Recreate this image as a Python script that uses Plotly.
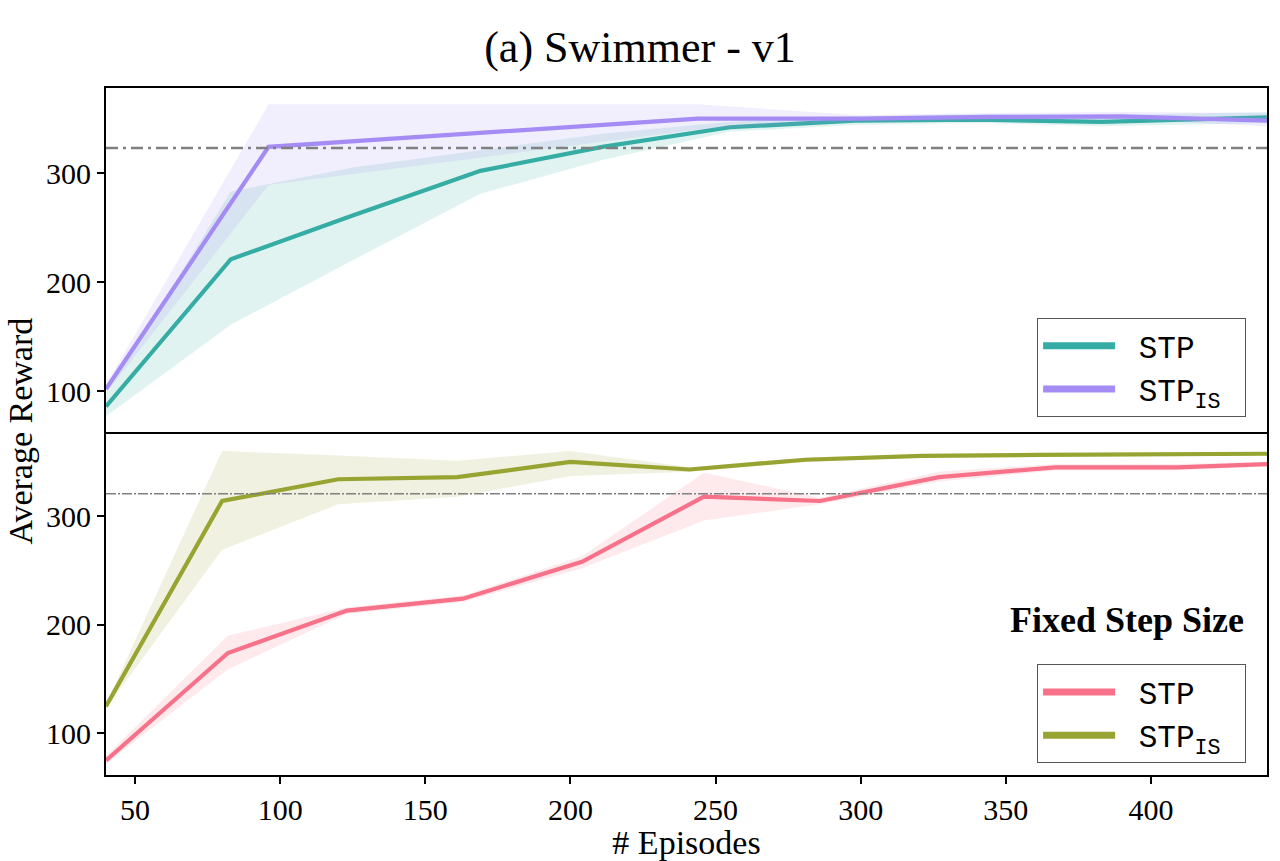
import plotly.graph_objects as go
from plotly.subplots import make_subplots

# ---------------- data ----------------
# Top panel (adaptive step size)
stp_x = [40, 83, 125, 169, 211, 255, 298, 340, 383, 440]
stp_mean = [86, 221, 261, 302, 324, 342, 348, 349, 347, 351]
stp_low = [77, 161, 220, 281, 312, 338, 344, 346, 343, 346]
stp_high = [97, 283, 305, 321, 336, 347, 352, 354, 353, 356]

stpis_x = [40, 96, 244, 300, 345, 390, 440]
stpis_mean = [102, 324, 350, 350, 351.5, 352, 348]
stpis_low = [98, 289, 340, 347, 348, 349, 343]
stpis_high = [106, 363, 363, 353, 355, 356, 355]

top_ref = 323

# Bottom panel (fixed step size)
fstp_x = [40, 82, 123, 163, 204, 246, 286, 327, 367, 409, 440]
fstp_mean = [75, 174, 213, 224, 258, 318, 314, 336, 345, 345, 348]
fstp_low = [72, 159, 210, 221, 252, 296, 311, 332, 342, 342, 346]
fstp_high = [79, 190, 216, 227, 263, 340, 317, 341, 348, 348, 350]

fstpis_x = [40, 80, 120, 161, 200, 241, 281, 321, 361, 401, 440]
fstpis_mean = [125, 314, 334, 336, 350, 343, 352, 355.5, 356.5, 357, 357.5]
fstpis_low = [123, 269, 311, 318, 337, 341, 350, 354, 355, 355.5, 356]
fstpis_high = [127, 360, 356, 351, 360, 345, 354, 357, 358, 358.5, 359]

bottom_ref = 320.7

x_ticks = [50, 100, 150, 200, 250, 300, 350, 400]
y_ticks = [100, 200, 300]

# ---------------- styles ----------------
C_TEAL = "#36ada4"
C_PURPLE = "#a48cf4"
C_PINK = "#f77189"
C_OLIVE = "#97a431"

SERIF = "Liberation Serif"
MONO = "Liberation Mono"
NB = "\u00a0"


def rgba(hexc, a):
    h = hexc.lstrip("#")
    r, g, b = int(h[0:2], 16), int(h[2:4], 16), int(h[4:6], 16)
    return f"rgba({r},{g},{b},{a})"


fig = make_subplots(rows=2, cols=1, shared_xaxes=True, vertical_spacing=0)


def add_series(x, mean, low, high, color, name, row, legend):
    fig.add_trace(
        go.Scatter(
            x=list(x) + list(x)[::-1],
            y=list(high) + list(low)[::-1],
            fill="toself",
            fillcolor=rgba(color, 0.15),
            line=dict(width=0),
            mode="lines",
            hoverinfo="skip",
            showlegend=False,
        ),
        row=row, col=1,
    )
    fig.add_trace(
        go.Scatter(
            x=x, y=mean, mode="lines", name=name,
            line=dict(color=color, width=4.2),
            showlegend=False,
        ),
        row=row, col=1,
    )
    # legend entry (thicker sample line, like the reference legend)
    fig.add_trace(
        go.Scatter(
            x=[None], y=[None], mode="lines", name=NB + name + NB,
            line=dict(color=color, width=7),
            legend=legend, hoverinfo="skip",
        ),
        row=row, col=1,
    )


add_series(stp_x, stp_mean, stp_low, stp_high, C_TEAL, "STP", 1, "legend")
add_series(stpis_x, stpis_mean, stpis_low, stpis_high, C_PURPLE, "STP<sub>IS</sub>", 1, "legend")
add_series(fstp_x, fstp_mean, fstp_low, fstp_high, C_PINK, "STP", 2, "legend2")
add_series(fstpis_x, fstpis_mean, fstpis_low, fstpis_high, C_OLIVE, "STP<sub>IS</sub>", 2, "legend2")

# reference lines
fig.add_trace(go.Scatter(x=[40, 440], y=[top_ref, top_ref], mode="lines",
                         line=dict(color="#808080", width=2.5, dash="12px,5px,3px,5px"),
                         showlegend=False, hoverinfo="skip"), row=1, col=1)
fig.add_trace(go.Scatter(x=[40, 440], y=[bottom_ref, bottom_ref], mode="lines",
                         line=dict(color="#808080", width=1.5, dash="10px,2px,2px,2px"),
                         showlegend=False, hoverinfo="skip"), row=2, col=1)

axis_common = dict(showline=True, linecolor="black", linewidth=2,
                   showgrid=False, zeroline=False)

fig.update_xaxes(range=[40, 440], tickvals=x_ticks, **axis_common)
fig.update_xaxes(showticklabels=False, ticks="", mirror=True, row=1, col=1)
fig.update_xaxes(ticks="outside", ticklen=7, tickwidth=1.5, tickcolor="black", mirror=False,
                 tickfont=dict(family=SERIF, size=30, color="black"),
                 title=dict(text="# Episodes", font=dict(family=SERIF, size=34, color="black"),
                            standoff=0),
                 row=2, col=1)
fig.update_yaxes(tickvals=y_ticks, ticks="outside", ticklen=7, tickwidth=1.5, tickcolor="black",
                 mirror=True,
                 tickfont=dict(family=SERIF, size=30, color="black"), **axis_common)
fig.update_yaxes(range=[63, 378], row=1, col=1)
fig.update_yaxes(range=[61.6, 378], row=2, col=1)

legend_style = dict(
    font=dict(family=MONO, size=31, color="black"),
    bgcolor="white", bordercolor="#555555", borderwidth=1,
    xanchor="right", yanchor="bottom", itemwidth=72,
    tracegroupgap=4,
)

fig.update_layout(
    width=1280, height=861,
    paper_bgcolor="white", plot_bgcolor="white",
    margin=dict(l=106, r=11, t=88, b=79),
    title=dict(text="(a) Swimmer - v1", x=0.5, xanchor="center", y=0.946, yanchor="middle",
               font=dict(family=SERIF, size=44, color="black")),
    legend=dict(x=0.982, y=0.521, **legend_style),
    legend2=dict(x=0.982, y=0.017, **legend_style),
    annotations=[
        dict(text="Average Reward", xref="paper", yref="paper", x=-0.074, y=0.5,
             xanchor="center", yanchor="middle", textangle=-90, showarrow=False,
             font=dict(family=SERIF, size=34, color="black")),
        dict(text="<b>Fixed Step Size</b>", xref="paper", yref="paper", x=0.982, y=0.226,
             xanchor="right", yanchor="middle", showarrow=False,
             font=dict(family=SERIF, size=36, color="black")),
    ],
    showlegend=True,
)

fig.write_html("out.html")
